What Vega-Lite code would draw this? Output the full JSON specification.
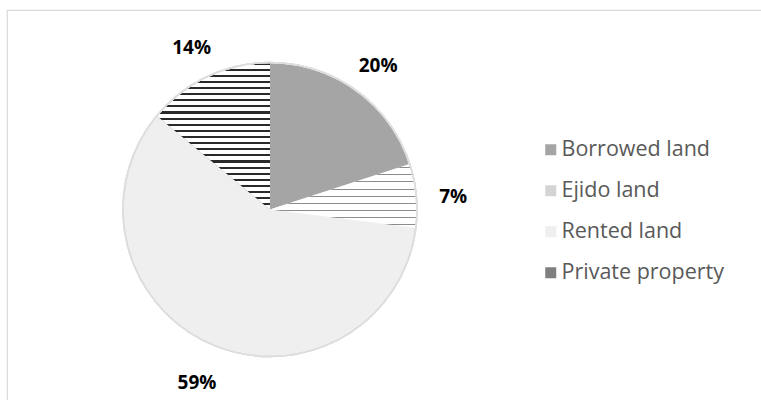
{
  "$schema": "https://vega.github.io/schema/vega-lite/v6.json",
  "width": 756,
  "height": 392,
  "autosize": {"type": "none"},
  "padding": {"left": 7, "top": 10, "right": 0, "bottom": 0},
  "background": "white",
  "view": {"stroke": "#d9d9d9", "strokeWidth": 1.2},
  "config": {
    "view": {"stroke": "#d9d9d9", "strokeWidth": 1.2},
    "font": "Open Sans"
  },
  "data": {
    "values": [
      {"n": 1, "land": "Borrowed land", "share": 0.20},
      {"n": 2, "land": "Ejido land", "share": 0.07},
      {"n": 3, "land": "Rented land", "share": 0.59},
      {"n": 4, "land": "Private property", "share": 0.14}
    ]
  },
  "encoding": {
    "theta": {"field": "share", "type": "quantitative", "stack": true},
    "order": {"field": "n", "type": "quantitative"}
  },
  "layer": [
    {
      "mark": {"type": "arc", "outerRadius": 147, "x": {"expr": "width * 0.3479"}, "y": {"expr": "height * 0.5089"}},
      "encoding": {
        "color": {
          "field": "land",
          "type": "nominal",
          "scale": {
            "domain": ["Borrowed land", "Ejido land", "Rented land", "Private property"],
            "range": ["#a5a5a5", "#d4d4d4", "#efefef", "#7f7f7f"]
          },
          "legend": {
            "title": null,
            "orient": "none",
            "legendX": 533,
            "legendY": 129,
            "symbolType": "square",
            "symbolSize": 121,
            "symbolStrokeWidth": 0,
            "labelFont": "Open Sans",
            "labelFontSize": 21.5,
            "labelColor": "#595959",
            "labelOffset": 0,
            "labelLimit": 400,
            "rowPadding": 18
          }
        }
      }
    },
    {
      "mark": {"type": "arc", "outerRadius": 147, "x": {"expr": "width * 0.3479"}, "y": {"expr": "height * 0.5089"}},
      "encoding": {
        "fill": {
          "condition": [
            {
              "test": "datum.land === 'Private property'",
              "value": {
                "gradient": "linear", "x1": 0, "y1": 0, "x2": 0, "y2": 1,
                "stops": [
                  {"offset": 0, "color": "#2a2a2a"}, {"offset": 0.0139, "color": "#2a2a2a"}, {"offset": 0.0139, "color": "#ffffff"}, {"offset": 0.0417, "color": "#ffffff"},
                  {"offset": 0.0417, "color": "#2a2a2a"}, {"offset": 0.0556, "color": "#2a2a2a"}, {"offset": 0.0556, "color": "#ffffff"}, {"offset": 0.0833, "color": "#ffffff"},
                  {"offset": 0.0833, "color": "#2a2a2a"}, {"offset": 0.0972, "color": "#2a2a2a"}, {"offset": 0.0972, "color": "#ffffff"}, {"offset": 0.125, "color": "#ffffff"},
                  {"offset": 0.125, "color": "#2a2a2a"}, {"offset": 0.1389, "color": "#2a2a2a"}, {"offset": 0.1389, "color": "#ffffff"}, {"offset": 0.1667, "color": "#ffffff"},
                  {"offset": 0.1667, "color": "#2a2a2a"}, {"offset": 0.1806, "color": "#2a2a2a"}, {"offset": 0.1806, "color": "#ffffff"}, {"offset": 0.2083, "color": "#ffffff"},
                  {"offset": 0.2083, "color": "#2a2a2a"}, {"offset": 0.2222, "color": "#2a2a2a"}, {"offset": 0.2222, "color": "#ffffff"}, {"offset": 0.25, "color": "#ffffff"},
                  {"offset": 0.25, "color": "#2a2a2a"}, {"offset": 0.2639, "color": "#2a2a2a"}, {"offset": 0.2639, "color": "#ffffff"}, {"offset": 0.2917, "color": "#ffffff"},
                  {"offset": 0.2917, "color": "#2a2a2a"}, {"offset": 0.3056, "color": "#2a2a2a"}, {"offset": 0.3056, "color": "#ffffff"}, {"offset": 0.3333, "color": "#ffffff"},
                  {"offset": 0.3333, "color": "#2a2a2a"}, {"offset": 0.3472, "color": "#2a2a2a"}, {"offset": 0.3472, "color": "#ffffff"}, {"offset": 0.375, "color": "#ffffff"},
                  {"offset": 0.375, "color": "#2a2a2a"}, {"offset": 0.3889, "color": "#2a2a2a"}, {"offset": 0.3889, "color": "#ffffff"}, {"offset": 0.4167, "color": "#ffffff"},
                  {"offset": 0.4167, "color": "#2a2a2a"}, {"offset": 0.4306, "color": "#2a2a2a"}, {"offset": 0.4306, "color": "#ffffff"}, {"offset": 0.4583, "color": "#ffffff"},
                  {"offset": 0.4583, "color": "#2a2a2a"}, {"offset": 0.4722, "color": "#2a2a2a"}, {"offset": 0.4722, "color": "#ffffff"}, {"offset": 0.5, "color": "#ffffff"},
                  {"offset": 0.5, "color": "#2a2a2a"}, {"offset": 0.5139, "color": "#2a2a2a"}, {"offset": 0.5139, "color": "#ffffff"}, {"offset": 0.5417, "color": "#ffffff"},
                  {"offset": 0.5417, "color": "#2a2a2a"}, {"offset": 0.5556, "color": "#2a2a2a"}, {"offset": 0.5556, "color": "#ffffff"}, {"offset": 0.5833, "color": "#ffffff"},
                  {"offset": 0.5833, "color": "#2a2a2a"}, {"offset": 0.5972, "color": "#2a2a2a"}, {"offset": 0.5972, "color": "#ffffff"}, {"offset": 0.625, "color": "#ffffff"},
                  {"offset": 0.625, "color": "#2a2a2a"}, {"offset": 0.6389, "color": "#2a2a2a"}, {"offset": 0.6389, "color": "#ffffff"}, {"offset": 0.6667, "color": "#ffffff"},
                  {"offset": 0.6667, "color": "#2a2a2a"}, {"offset": 0.6806, "color": "#2a2a2a"}, {"offset": 0.6806, "color": "#ffffff"}, {"offset": 0.7083, "color": "#ffffff"},
                  {"offset": 0.7083, "color": "#2a2a2a"}, {"offset": 0.7222, "color": "#2a2a2a"}, {"offset": 0.7222, "color": "#ffffff"}, {"offset": 0.75, "color": "#ffffff"},
                  {"offset": 0.75, "color": "#2a2a2a"}, {"offset": 0.7639, "color": "#2a2a2a"}, {"offset": 0.7639, "color": "#ffffff"}, {"offset": 0.7917, "color": "#ffffff"},
                  {"offset": 0.7917, "color": "#2a2a2a"}, {"offset": 0.8056, "color": "#2a2a2a"}, {"offset": 0.8056, "color": "#ffffff"}, {"offset": 0.8333, "color": "#ffffff"},
                  {"offset": 0.8333, "color": "#2a2a2a"}, {"offset": 0.8472, "color": "#2a2a2a"}, {"offset": 0.8472, "color": "#ffffff"}, {"offset": 0.875, "color": "#ffffff"},
                  {"offset": 0.875, "color": "#2a2a2a"}, {"offset": 0.8889, "color": "#2a2a2a"}, {"offset": 0.8889, "color": "#ffffff"}, {"offset": 0.9167, "color": "#ffffff"},
                  {"offset": 0.9167, "color": "#2a2a2a"}, {"offset": 0.9306, "color": "#2a2a2a"}, {"offset": 0.9306, "color": "#ffffff"}, {"offset": 0.9583, "color": "#ffffff"},
                  {"offset": 0.9583, "color": "#2a2a2a"}, {"offset": 0.9722, "color": "#2a2a2a"}, {"offset": 0.9722, "color": "#ffffff"}, {"offset": 1, "color": "#ffffff"}
                ]
              }
            },
            {
              "test": "datum.land === 'Ejido land'",
              "value": {
                "gradient": "linear", "x1": 0, "y1": 0, "x2": 0, "y2": 1,
                "stops": [
                  {"offset": 0, "color": "#ffffff"}, {"offset": 0.05, "color": "#ffffff"}, {"offset": 0.05, "color": "#8c8c8c"}, {"offset": 0.066, "color": "#8c8c8c"}, {"offset": 0.066, "color": "#ffffff"},
                  {"offset": 0.1611, "color": "#ffffff"}, {"offset": 0.1611, "color": "#8c8c8c"}, {"offset": 0.1771, "color": "#8c8c8c"}, {"offset": 0.1771, "color": "#ffffff"},
                  {"offset": 0.2722, "color": "#ffffff"}, {"offset": 0.2722, "color": "#8c8c8c"}, {"offset": 0.2882, "color": "#8c8c8c"}, {"offset": 0.2882, "color": "#ffffff"},
                  {"offset": 0.3833, "color": "#ffffff"}, {"offset": 0.3833, "color": "#8c8c8c"}, {"offset": 0.3993, "color": "#8c8c8c"}, {"offset": 0.3993, "color": "#ffffff"},
                  {"offset": 0.4944, "color": "#ffffff"}, {"offset": 0.4944, "color": "#8c8c8c"}, {"offset": 0.5104, "color": "#8c8c8c"}, {"offset": 0.5104, "color": "#ffffff"},
                  {"offset": 0.6056, "color": "#ffffff"}, {"offset": 0.6056, "color": "#8c8c8c"}, {"offset": 0.6216, "color": "#8c8c8c"}, {"offset": 0.6216, "color": "#ffffff"},
                  {"offset": 0.7167, "color": "#ffffff"}, {"offset": 0.7167, "color": "#8c8c8c"}, {"offset": 0.7327, "color": "#8c8c8c"}, {"offset": 0.7327, "color": "#ffffff"},
                  {"offset": 0.8278, "color": "#ffffff"}, {"offset": 0.8278, "color": "#8c8c8c"}, {"offset": 0.8438, "color": "#8c8c8c"}, {"offset": 0.8438, "color": "#ffffff"},
                  {"offset": 0.9389, "color": "#ffffff"}, {"offset": 0.9389, "color": "#8c8c8c"}, {"offset": 0.9549, "color": "#8c8c8c"}, {"offset": 0.9549, "color": "#ffffff"},
                  {"offset": 1, "color": "#ffffff"}
                ]
              }
            }
          ],
          "value": "transparent"
        }
      }
    },
    {
      "mark": {"type": "arc", "outerRadius": 147, "x": {"expr": "width * 0.3479"}, "y": {"expr": "height * 0.5089"}, "fill": "transparent", "stroke": "#dedede", "strokeWidth": 1.5},
      "encoding": {"theta": {"value": 6.2832}}
    },
    {
      "mark": {"type": "text", "radius": 184, "dy": 5, "x": {"expr": "width * 0.3479"}, "y": {"expr": "height * 0.5089"}, "font": "Open Sans", "fontSize": 19, "fontWeight": "bold", "fill": "#000000"},
      "encoding": {
        "text": {"field": "share", "type": "quantitative", "format": ".0%"},
        "detail": {"field": "land", "type": "nominal"}
      }
    }
  ]
}
